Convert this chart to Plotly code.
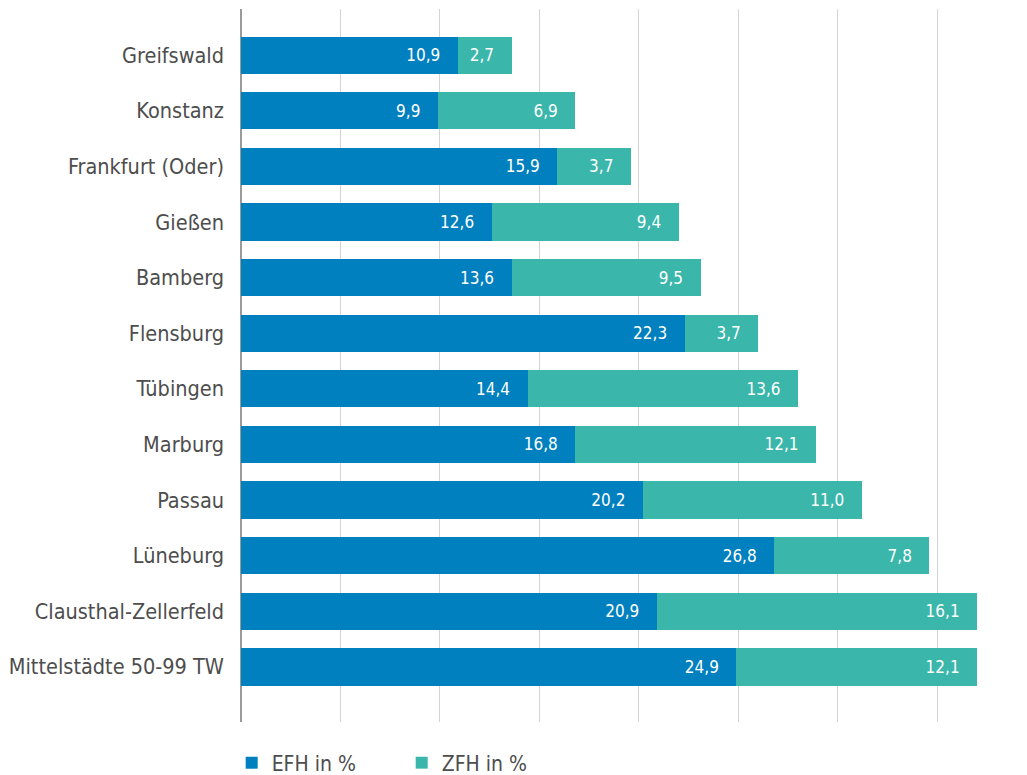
import plotly.graph_objects as go

cities = ["Greifswald", "Konstanz", "Frankfurt (Oder)", "Gießen", "Bamberg", "Flensburg",
          "Tübingen", "Marburg", "Passau", "Lüneburg", "Clausthal-Zellerfeld",
          "Mittelstädte 50-99 TW"]
efh = [10.9, 9.9, 15.9, 12.6, 13.6, 22.3, 14.4, 16.8, 20.2, 26.8, 20.9, 24.9]
zfh = [2.7, 6.9, 3.7, 9.4, 9.5, 3.7, 13.6, 12.1, 11.0, 7.8, 16.1, 12.1]

def fmt(v):
    return f"{v:.1f}".replace(".", ",")

pad = "\u00a0\u00a0\u00a0"
FONT = "DejaVu Sans Condensed"
fig = go.Figure()
fig.add_trace(go.Bar(y=cities, x=efh, orientation="h", name="EFH in %",
                     marker=dict(color="#0080BE", line=dict(width=0)),
                     text=[fmt(v) + pad for v in efh], textposition="inside",
                     insidetextanchor="end",
                     textfont=dict(color="white", size=17, family=FONT),
                     width=0.67))
fig.add_trace(go.Bar(y=cities, x=zfh, orientation="h", name="ZFH in %",
                     marker=dict(color="#3AB6AA", line=dict(width=0)),
                     text=[fmt(v) + pad for v in zfh], textposition="inside",
                     insidetextanchor="end",
                     textfont=dict(color="white", size=17, family=FONT),
                     width=0.67))

fig.update_layout(
    barmode="stack",
    width=1019, height=767,
    margin=dict(l=233, r=10, t=1, b=53, autoexpand=False),
    paper_bgcolor="white", plot_bgcolor="white",
    font=dict(family=FONT, color="#4d4d4d", size=21),
    xaxis=dict(range=[0, 39], dtick=5, tick0=0, showticklabels=False,
               showgrid=True, gridcolor="#d4d4d4", gridwidth=1,
               zeroline=True, zerolinecolor="#9a9a9a", zerolinewidth=2,
               fixedrange=True),
    yaxis=dict(categoryorder="array", categoryarray=cities,
               range=[11.99, -0.83], showgrid=False, ticks="",
               ticklabelstandoff=16, tickfont=dict(size=21.5, color="#4d4d4d")),
    legend=dict(orientation="h", x=-0.012, xanchor="left", y=-0.0575, yanchor="middle",
                font=dict(size=21, color="#4d4d4d"), entrywidth=125,
                entrywidthmode="pixels", traceorder="normal"),
)
fig.write_html("out.html")
